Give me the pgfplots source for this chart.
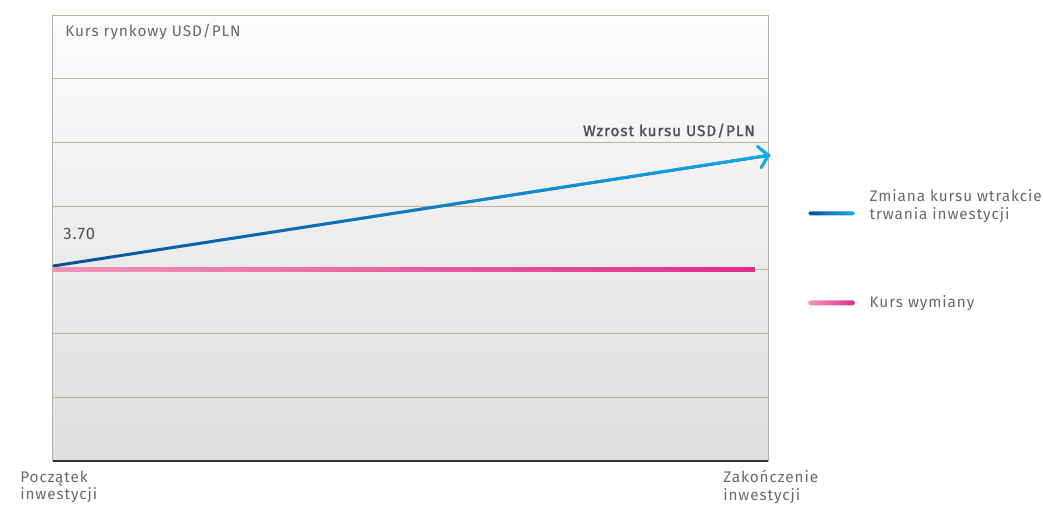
\documentclass[border=0pt]{standalone}
\usepackage{fontspec}
\setmainfont{Fira Sans}[LetterSpace=6]
\usepackage{pgfplots}
\pgfplotsset{compat=1.18}
\usetikzlibrary{arrows.meta,fadings}
\tikzfading[name=fadeL, left color=transparent!100, right color=transparent!0]
\tikzfading[name=fadeR, left color=transparent!0, right color=transparent!100]
\definecolor{frame}{RGB}{192,176,150}
\definecolor{bgtop}{RGB}{252,252,252}
\definecolor{bgbot}{RGB}{222,222,222}
\definecolor{dblue}{RGB}{10,78,152}
\definecolor{cblue}{RGB}{18,172,232}
\definecolor{lpink}{RGB}{242,150,190}
\definecolor{mpink}{RGB}{224,44,138}
\definecolor{txt}{RGB}{105,105,105}
\definecolor{dtxt}{RGB}{80,80,80}
\begin{document}
\begin{tikzpicture}
\useasboundingbox (0,0) rectangle (782.25pt,378pt);
\begin{axis}[
  at={(39.75pt,32.25pt)}, anchor=south west,
  scale only axis, width=536.25pt, height=334.5pt,
  xmin=0, xmax=100, ymin=0, ymax=7,
  xtick=\empty, ytick={1,2,3,4,5,6}, yticklabels={},
  major tick length=0pt,
  ymajorgrids, major grid style={frame, line width=0.75pt},
  axis line style={frame, line width=0.75pt},
  axis background/.style={shade, top color=bgtop, bottom color=bgbot},
  clip=false,
  font=\fontsize{11.5}{13.5}\selectfont,
  legend style={at={(rel axis cs:1.056,0.616)}, anchor=north west, draw=none, fill=none,
    inner sep=0pt, row sep=52pt, column sep=9pt,
    cells={anchor=west, align=left, text=txt},
    font=\fontsize{11.5}{13.5}\selectfont},
]
% base blue line with legend
\addplot[dblue, line width=2.2pt,
  legend image code/.code={\shade[draw=none, left color=dblue, right color=cblue, rounded corners=1.4pt] (0pt,-7.6pt) rectangle (35pt,-4.6pt);}]
  coordinates {(0,3.06) (100.3,4.80)};
\addlegendentry{Zmiana kursu wtrakcie\\trwania inwestycji}
\addplot[mpink, line width=3.8pt,
  legend image code/.code={\shade[draw=none, left color=lpink, right color=mpink, rounded corners=1.8pt] (0pt,-1.9pt) rectangle (35pt,1.9pt);}]
  coordinates {(0,3.0) (98.2,3.0)};
\addlegendentry{Kurs wymiany}
% gradient overlays
\addplot[cblue, line width=2.2pt, path fading=fadeL, forget plot]
  coordinates {(0,3.06) (100.3,4.80)};
\addplot[lpink, line width=3.8pt, path fading=fadeR, forget plot]
  coordinates {(0,3.0) (98.2,3.0)};
% arrow head
\addplot[cblue, line width=2.4pt, forget plot, -{Straight Barb[length=7pt,width=16pt,round]}]
  coordinates {(99.0,4.775) (100.3,4.80)};
% darker bottom line
\draw[black!80, line width=0.8pt] (rel axis cs:0,0) -- (rel axis cs:1,0);
% texts
\node[anchor=base west, text=txt, inner sep=0pt] at ([xshift=9pt,yshift=-16pt]rel axis cs:0,1) {Kurs rynkowy USD/PLN};
\node[anchor=base east, text=dtxt, inner sep=0pt, font=\fontsize{11.5}{13.5}\selectfont\addfontfeature{FakeBold=1.2}] at (axis cs:98.2,5.10) {Wzrost kursu USD/PLN};
\node[anchor=base west, text=dtxt, inner sep=0pt, font=\fontsize{12.5}{14}\selectfont] at (axis cs:1.4,3.47) {3.70};
\node[anchor=north west, text=txt, inner sep=0pt, align=left, font=\fontsize{11.5}{13}\selectfont] at ([xshift=-24.75pt,yshift=-7pt]rel axis cs:0,0) {Początek\\inwestycji};
\node[anchor=north west, text=txt, inner sep=0pt, align=left, font=\fontsize{11.5}{13}\selectfont] at ([xshift=502.5pt,yshift=-7pt]rel axis cs:0,0) {Zakończenie\\inwestycji};
\end{axis}
\end{tikzpicture}
\end{document}
